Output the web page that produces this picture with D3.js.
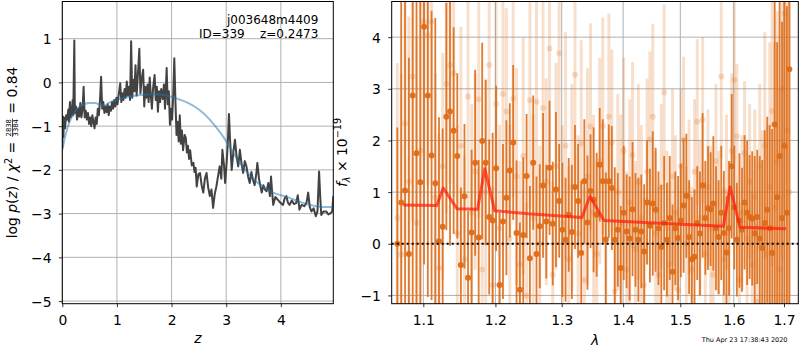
<!DOCTYPE html>
<html>
<head>
<meta charset="utf-8">
<script src="https://cdn.jsdelivr.net/npm/d3@7/dist/d3.min.js"></script>
<style>
  body { margin: 0; background: #fff; }
  svg text { font-family: "DejaVu Sans", sans-serif; fill: #000; white-space: pre; }
</style>
</head>
<body>
<svg id="fig" width="800" height="350"></svg>
<script>
// ---------------- p(z) panel ----------------
const zGrid = [0.00,0.01,0.02,0.03,0.05,0.07,0.09,0.11,0.12,0.14,0.15,0.17,0.19,0.20,0.22,0.23,0.25,0.27,0.29,0.31,
  0.33,0.35,0.37,0.39,0.41,0.43,0.45,0.47,0.49,0.51,0.53,0.55,0.57,0.59,0.61,0.63,0.65,0.67,0.69,0.71,
  0.73,0.75,0.77,0.79,0.81,0.83,0.85,0.87,0.89,0.91,0.93,0.95,0.97,0.99,1.01,1.03,1.06,1.08,1.10,1.12,
  1.14,1.16,1.18,1.20,1.22,1.24,1.26,1.28,1.30,1.32,1.34,1.36,1.38,1.41,1.43,1.45,1.48,1.50,1.52,1.54,
  1.56,1.58,1.60,1.62,1.64,1.66,1.69,1.71,1.73,1.75,1.77,1.79,1.81,1.84,1.86,1.88,1.91,1.93,1.95,1.97,
  1.99,2.01,2.03,2.05,2.07,2.09,2.11,2.13,2.15,2.17,2.19,2.21,2.24,2.26,2.28,2.30,2.32,2.34,2.37,2.40,
  2.42,2.44,2.46,2.49,2.52,2.55,2.58,2.61,2.64,2.67,2.70,2.73,2.76,2.79,2.82,2.85,2.88,2.91,2.93,2.96,
  2.98,3.01,3.03,3.05,3.07,3.10,3.13,3.16,3.19,3.22,3.25,3.28,3.31,3.34,3.37,3.40,3.43,3.46,3.49,3.52,
  3.55,3.57,3.60,3.63,3.65,3.68,3.71,3.74,3.77,3.80,3.82,3.84,3.86,3.90,3.95,3.99,4.04,4.07,4.10,4.13,
  4.16,4.20,4.24,4.28,4.31,4.34,4.38,4.43,4.47,4.50,4.53,4.56,4.60,4.64,4.67,4.70,4.72,4.74,4.78,4.83,
  4.87,4.90,4.94,4.96];
const logPz = [-1.50,-0.78,-1.25,-0.80,-1.05,-0.75,-0.85,-0.62,-0.90,-0.45,-0.80,-0.70,-0.40,-0.75,0.96,-0.70,-0.55,-0.85,-0.60,-0.78,
  -0.47,-0.80,-0.62,-0.10,-0.80,-0.65,-0.85,-0.70,-0.95,-0.80,-1.00,-0.75,-0.90,-1.05,-0.80,-0.95,-0.60,-0.75,-0.40,0.13,
  -0.60,-0.45,-0.70,-0.55,-0.68,-0.50,-0.75,-0.55,-0.65,-0.45,-0.60,-0.40,-0.55,-0.35,-0.50,-0.30,-0.02,-0.45,-0.25,-0.40,
  -0.15,-0.35,0.02,-0.30,-0.10,-0.40,0.94,-0.35,0.06,-0.20,0.39,-0.30,0.10,0.77,-0.25,0.05,0.29,-0.55,-0.10,-0.35,
  -0.05,-0.45,0.11,-0.30,-0.60,-0.15,0.17,-0.40,-0.10,-0.67,-0.20,-0.45,-0.15,-0.38,-0.05,-0.60,0.33,-0.50,-0.20,-0.97,
  -0.60,-0.85,-0.30,0.55,-0.40,-1.20,-0.90,-1.35,-0.75,-1.40,-1.10,-1.55,-1.20,-1.27,-1.60,-1.45,-1.75,-1.55,-1.90,-1.84,
  -2.05,-1.95,-2.38,-2.10,-2.07,-2.35,-2.52,-2.20,-2.07,-2.40,-2.60,-2.45,-2.87,-2.55,-2.38,-2.15,-1.92,-2.20,-1.54,-1.90,
  -2.30,-1.80,-1.35,-0.72,-1.30,-2.00,-1.60,-1.31,-1.70,-1.92,-1.54,-1.85,-2.07,-1.80,-1.92,-2.15,-2.30,-2.05,-2.23,-2.35,
  -2.10,-1.84,-2.20,-2.40,-2.52,-2.35,-2.45,-2.49,-2.30,-2.60,-2.15,-2.50,-2.80,-2.62,-2.69,-2.75,-2.80,-2.65,-2.60,-2.75,
  -2.80,-2.70,-2.78,-2.76,-2.58,-2.91,-2.80,-2.83,-2.75,-2.52,-2.85,-2.95,-2.88,-3.06,-2.95,-2.04,-2.60,-3.03,-2.95,-2.95,
  -3.02,-3.00,-2.95,-2.60];
const zSmooth = [0.00,0.05,0.10,0.15,0.20,0.25,0.30,0.40,0.50,0.60,0.70,0.78,0.85,0.95,1.10,1.30,1.50,1.70,1.90,2.10,
  2.30,2.50,2.70,2.85,2.95,3.05,3.15,3.25,3.35,3.45,3.56,3.70,3.86,4.00,4.16,4.30,4.47,4.65,4.80,4.96];
const logPzSmooth = [-1.55,-1.25,-1.02,-0.85,-0.74,-0.64,-0.57,-0.50,-0.47,-0.47,-0.52,-0.53,-0.47,-0.42,-0.36,-0.31,-0.28,-0.27,-0.30,-0.37,
  -0.47,-0.62,-0.85,-1.08,-1.25,-1.45,-1.65,-1.84,-2.00,-2.15,-2.28,-2.40,-2.52,-2.58,-2.64,-2.71,-2.78,-2.83,-2.85,-2.85];
const zTicks = [0, 1, 2, 3, 4];
const pTicks = [-5, -4, -3, -2, -1, 0, 1];

// ---------------- spectrum panel ----------------
const lam = [1.066,1.071,1.076,1.081,1.086,1.091,1.096,1.101,1.106,1.111,
  1.116,1.121,1.126,1.131,1.136,1.141,1.146,1.151,1.156,1.161,
  1.166,1.171,1.176,1.181,1.186,1.191,1.196,1.201,1.206,1.211,
  1.216,1.221,1.226,1.231,1.236,1.241,1.246,1.251,1.256,1.261,
  1.266,1.271,1.276,1.281,1.286,1.291,1.296,1.301,1.306,1.311,
  1.316,1.321,1.326,1.331,1.336,1.341,1.346,1.351,1.356,1.361,
  1.366,1.371,1.376,1.381,1.386,1.391,1.396,1.401,1.406,1.411,
  1.416,1.421,1.426,1.431,1.436,1.441,1.446,1.451,1.456,1.461,
  1.466,1.471,1.476,1.481,1.486,1.491,1.496,1.501,1.506,1.511,
  1.516,1.521,1.526,1.531,1.536,1.541,1.546,1.551,1.556,1.561,
  1.566,1.571,1.576,1.581,1.586,1.591,1.596,1.601,1.606,1.611,
  1.616,1.621,1.626,1.631,1.636,1.641,1.646,1.651,1.656,1.661,
  1.666,1.671,1.676,1.681,1.686,1.691,1.696,1.701,1.706,1.711];
const fluxDark = [0.0,0.8,1.03,-0.2,2.87,1.75,1.19,4.2,2.87,1.71,
  1.17,0.05,0.33,2.46,2.56,2.19,1.7,-0.41,0.92,-0.66,
  0.22,1.57,0.12,1.99,1.57,0.52,0.45,1.46,-0.8,0.43,
  0.89,1.42,1.96,0.21,-0.89,0.17,1.31,-0.28,1.57,-0.2,
  0.34,1.13,0.43,1.47,0.39,1.05,0.83,0.27,0.08,0.56,
  0.23,1.1,0.83,-0.18,1.21,0.41,1.02,0.85,0.56,1.53,
  1.21,0.08,1.21,1.08,0.08,0.27,-0.47,0.6,0.24,0.1,
  0.67,0.27,0.08,0.24,-0.15,0.8,0.35,0.78,0.66,0.3,
  -0.06,0.4,0.08,0.5,-0.54,0.3,0.11,0.45,0.74,0.93,
  0.13,-0.3,-0.25,0.4,0.2,1.13,0.5,0.69,0.67,0.78,
  0.3,0.13,0.6,0.21,-0.17,0.3,1.5,0.7,0.08,0.45,
  0.27,0.8,0.6,0.52,0.49,0.2,0.52,0.1,-0.08,0.4,
  0.66,0.3,-0.18,2.31,0.9,1.7,0.5,1.9,0.6,3.38];
const errDark = [2.25,3.9,4.5,3.8,5.0,4.2,3.5,4.6,3.9,2.8,
  3.2,2.4,1.9,2.2,2.6,2.0,1.6,1.5,1.4,1.3,
  1.6,1.8,1.5,1.9,1.6,1.5,1.7,1.6,1.4,1.5,
  1.5,1.3,1.5,1.4,1.3,1.5,1.2,1.4,1.3,1.5,
  1.2,1.4,1.1,1.3,1.2,1.5,1.1,1.3,1.2,1.1,
  1.3,1.2,1.1,1.4,1.2,1.3,1.1,1.4,1.2,1.1,
  1.2,1.3,1.1,1.2,1.4,1.1,1.2,1.3,1.1,1.2,
  1.3,1.1,1.2,1.1,1.3,1.2,1.1,1.4,1.2,1.1,
  1.2,1.3,1.1,1.2,1.3,1.1,1.2,1.1,1.3,1.2,
  1.1,1.2,1.3,1.1,1.2,1.4,1.1,1.2,1.1,1.3,
  1.2,1.1,1.3,1.2,1.1,1.3,1.4,1.2,1.1,1.3,
  1.2,1.3,1.4,1.2,1.3,1.5,1.3,1.6,1.7,1.8,
  1.8,2.0,2.4,3.5,3.0,4.2,3.8,4.6,4.0,5.0];
const fluxLight = [0.5,-0.21,2.33,1.2,3.24,0.4,1.8,4.3,4.03,4.3,
  0.9,-0.47,1.5,3.1,3.46,3.3,0.2,1.9,-0.3,2.85,
  0.6,1.4,2.8,-0.5,1.0,3.46,-0.8,2.71,0.3,2.9,
  2.56,0.1,2.81,1.3,-0.4,1.7,-1.0,2.78,0.5,2.75,
  0.0,2.63,1.2,3.78,-0.6,1.5,3.69,0.4,1.9,-0.3,
  1.1,3.27,0.2,1.94,-0.7,1.3,2.27,0.6,-0.2,1.6,
  2.28,0.1,2.46,1.96,-0.92,1.0,0.4,1.8,-0.5,0.8,
  1.72,-0.1,1.2,0.5,-0.8,1.4,2.02,2.46,0.2,-0.6,
  1.1,2.93,0.3,-0.4,1.3,0.6,-0.9,1.5,2.02,0.0,
  0.9,-0.5,1.4,2.36,0.5,2.4,-0.2,1.1,0.3,-0.6,
  1.6,0.4,3.24,-0.3,1.0,0.2,1.8,3.17,2.08,-0.7,
  0.6,1.75,0.1,1.2,-0.4,0.9,-1.12,1.5,0.3,1.9,
  -0.2,1.1,2.57,0.7,1.6,-0.5,3.0,4.46,2.2,1.0];
const errLight = [3.0,3.5,2.6,3.2,2.8,3.6,3.0,2.7,2.9,2.6,
  2.4,2.6,2.2,2.5,2.3,2.4,2.1,2.3,2.0,2.2,
  2.1,1.9,2.3,2.0,2.2,2.4,1.9,2.1,2.0,2.2,
  2.0,2.2,1.9,2.1,2.0,2.3,1.8,2.1,2.0,2.2,
  1.9,2.1,2.0,2.2,1.8,2.0,2.1,1.9,2.2,1.8,
  2.0,2.1,1.9,2.0,1.8,2.1,2.0,1.9,1.8,2.0,
  2.1,1.9,2.0,1.8,2.0,1.9,2.1,1.8,1.9,2.0,
  1.8,1.7,1.9,1.8,1.7,1.8,1.7,1.8,1.6,1.7,
  1.6,1.7,1.5,1.6,1.7,1.5,1.6,1.5,1.6,1.5,
  1.5,1.6,1.4,1.6,1.5,1.6,1.4,1.5,1.6,1.4,
  1.5,1.4,1.6,1.4,1.5,1.4,1.5,1.6,1.4,1.5,
  1.5,1.4,1.6,1.5,1.4,1.7,1.5,1.6,1.9,2.2,
  2.5,2.8,3.0,3.2,2.9,3.5,3.3,3.8,3.4,4.0];
const modelLam = [1.0737,1.1179,1.1267,1.1456,1.1744,1.1847,1.199,1.249,1.332,1.345,1.368,1.50,1.580,1.593,1.612,1.704];
const modelFlux = [0.75,0.74,1.08,0.68,0.67,1.45,0.64,0.58,0.51,0.92,0.45,0.38,0.34,1.10,0.32,0.29];
const lamTicks = [1.1, 1.2, 1.3, 1.4, 1.5, 1.6, 1.7];
const fTicks = [-1, 0, 1, 2, 3, 4];

const svg = d3.select("#fig");
const FS = 13.9;
const GRID = "#b0b0b0";
const ORANGE = "#dd6c17";

var left = {x0: 62.3, x1: 333.3, y0: 1.5, y1: 303.7};
var right = {x0: 391.7, x1: 798.3, y0: 1.5, y1: 303.7};

var x = d3.scaleLinear().domain([0, 4.96]).range([left.x0, left.x1]);
var y = d3.scaleLinear().domain([-5.06, 1.85]).range([left.y1, left.y0]);
var xLam = d3.scaleLog().domain([1.0588, 1.7296]).range([right.x0, right.x1]);
var yFlux = d3.scaleLinear().domain([-1.16, 4.69]).range([right.y1, right.y0]);

var defs = svg.append("defs");
[["clipL", left], ["clipR", right]].forEach(([id, b]) => {
    defs.append("clipPath").attr("id", id).append("rect")
        .attr("x", b.x0).attr("y", b.y0)
        .attr("width", b.x1 - b.x0).attr("height", b.y1 - b.y0);
});

//grid lines under everything
function drawGrid(b, xs, xt, ys, yt) {
    var g = svg.append("g").attr("stroke", GRID).attr("stroke-width", 1);
    g.selectAll("line.gx").data(xt).join("line").attr("class", "gx")
        .attr("x1", d => xs(d)).attr("x2", d => xs(d)).attr("y1", b.y0).attr("y2", b.y1);
    g.selectAll("line.gy").data(yt).join("line").attr("class", "gy")
        .attr("y1", d => ys(d)).attr("y2", d => ys(d)).attr("x1", b.x0).attr("x2", b.x1);
}

function drawAxes(b, xs, xt, xfmt, ys, yt, yfmt) {
    var ax = d3.axisBottom(xs).tickValues(xt).tickSize(3.5).tickPadding(8.4).tickFormat(xfmt);
    svg.append("g").attr("transform", "translate(0," + b.y1 + ")").call(ax)
        .call(g => g.select(".domain").remove())
        .call(g => g.selectAll("line").attr("stroke", "#000").attr("stroke-width", 0.8))
        .call(g => g.selectAll("text").attr("font-size", FS).attr("font-family", "DejaVu Sans"));
    var ay = d3.axisLeft(ys).tickValues(yt).tickSize(3.5).tickPadding(7.3).tickFormat(yfmt);
    svg.append("g").attr("transform", "translate(" + b.x0 + ",0)").call(ay)
        .call(g => g.select(".domain").remove())
        .call(g => g.selectAll("line").attr("stroke", "#000").attr("stroke-width", 0.8))
        .call(g => g.selectAll("text").attr("font-size", FS).attr("font-family", "DejaVu Sans").attr("dy", "0.36em"));
    svg.append("rect").attr("x", b.x0).attr("y", b.y0)
        .attr("width", b.x1 - b.x0).attr("height", b.y1 - b.y0)
        .attr("fill", "none").attr("stroke", "#000").attr("stroke-width", 1);
}

// ---------- left panel ----------
drawGrid(left, x, zTicks, y, pTicks);

var curves = svg.append("g").attr("clip-path", "url(#clipL)");
curves.append("path")
    .attr("d", d3.line().x((d, i) => x(zGrid[i])).y(d => y(d))(logPz))
    .attr("fill", "none").attr("stroke", "#333").attr("stroke-opacity", 0.92)
    .attr("stroke-width", 2).attr("stroke-linejoin", "round");
curves.append("path")
    .attr("d", d3.line().curve(d3.curveMonotoneX).x((d, i) => x(zSmooth[i])).y(d => y(d))(logPzSmooth))
    .attr("fill", "none").attr("stroke", "#1f77b4").attr("stroke-opacity", 0.5)
    .attr("stroke-width", 2);

drawAxes(left, x, zTicks, d3.format("d"), y, pTicks, d3.format("d"));

svg.append("text").attr("x", 318.3).attr("y", 24).attr("text-anchor", "end")
    .attr("font-size", 12).text("j003648m4409");
svg.append("text").attr("x", 318.3).attr("y", 38).attr("text-anchor", "end")
    .attr("font-size", 12).text("ID=339    z=0.2473");

svg.append("text").attr("x", (left.x0 + left.x1) / 2).attr("y", 343)
    .attr("text-anchor", "middle").attr("font-size", FS).attr("font-style", "italic").text("z");

// y label with a small fraction, laid out piece by piece
function mathLabel(cx, cy, pieces) {
    var g = svg.append("g");
    var inner = g.append("g");
    var cur = 0;
    pieces.forEach(p => {
        if (p.frac) {
            var n = inner.append("text").attr("font-size", p.size).attr("y", -5.8).text(p.frac[0]);
            var d = inner.append("text").attr("font-size", p.size).attr("y", 1.0).text(p.frac[1]);
            var w = Math.max(n.node().getComputedTextLength(), d.node().getComputedTextLength()) + 2;
            n.attr("x", cur + w / 2).attr("text-anchor", "middle");
            d.attr("x", cur + w / 2).attr("text-anchor", "middle");
            inner.append("line").attr("x1", cur + 0.5).attr("x2", cur + w - 0.5)
                .attr("y1", -4.5).attr("y2", -4.5).attr("stroke", "#000").attr("stroke-width", 0.7);
            cur += w;
        } else {
            var t = inner.append("text").attr("x", cur).attr("y", p.dy || 0)
                .attr("font-size", p.size || FS).text(p.s);
            if (p.it) t.attr("font-style", "italic");
            cur += t.node().getComputedTextLength();
        }
    });
    inner.attr("transform", "translate(" + (-cur / 2) + ",0)");
    g.attr("transform", "translate(" + cx + "," + cy + ") rotate(-90)");
}

mathLabel(17, 152.5, [
    {s: "log "}, {s: "p", it: true}, {s: "("}, {s: "z", it: true}, {s: ") / "},
    {s: "χ", it: true}, {s: "2", size: 9.7, dy: -5.5}, {s: " = "},
    {frac: ["2838", "3384"], size: 6.8}, {s: " = 0.84"}
]);

// ---------- right panel ----------
drawGrid(right, xLam, lamTicks, yFlux, fTicks);

var spec = svg.append("g").attr("clip-path", "url(#clipR)");
var idx = d3.range(lam.length);

// fainter spectrum
spec.append("g").selectAll("line").data(idx).join("line")
    .attr("x1", i => xLam(lam[i])).attr("x2", i => xLam(lam[i]))
    .attr("y1", i => yFlux(fluxLight[i] - errLight[i])).attr("y2", i => yFlux(fluxLight[i] + errLight[i]))
    .attr("stroke", ORANGE).attr("stroke-opacity", 0.22).attr("stroke-width", 3);
spec.append("g").selectAll("circle").data(idx).join("circle")
    .attr("cx", i => xLam(lam[i])).attr("cy", i => yFlux(fluxLight[i])).attr("r", 3)
    .attr("fill", ORANGE).attr("fill-opacity", 0.22);

// main spectrum
spec.append("g").selectAll("line").data(idx).join("line")
    .attr("x1", i => xLam(lam[i])).attr("x2", i => xLam(lam[i]))
    .attr("y1", i => yFlux(fluxDark[i] - errDark[i])).attr("y2", i => yFlux(fluxDark[i] + errDark[i]))
    .attr("stroke", ORANGE).attr("stroke-opacity", 0.9).attr("stroke-width", 1.8);
spec.append("g").selectAll("circle").data(idx).join("circle")
    .attr("cx", i => xLam(lam[i])).attr("cy", i => yFlux(fluxDark[i])).attr("r", 3)
    .attr("fill", ORANGE).attr("fill-opacity", 0.95);

// model
spec.append("path")
    .attr("d", d3.line().x((d, i) => xLam(modelLam[i])).y(d => yFlux(d))(modelFlux))
    .attr("fill", "none").attr("stroke", "#ff1a0a").attr("stroke-opacity", 0.7)
    .attr("stroke-width", 3).attr("stroke-linejoin", "round");

// zero level
svg.append("line").attr("x1", right.x0).attr("x2", right.x1)
    .attr("y1", yFlux(0)).attr("y2", yFlux(0))
    .attr("stroke", "#000").attr("stroke-width", 2).attr("stroke-dasharray", "2,3");

drawAxes(right, xLam, lamTicks, d3.format(".1f"), yFlux, fTicks, d3.format("d"));

svg.append("text").attr("x", (right.x0 + right.x1) / 2).attr("y", 345)
    .attr("text-anchor", "middle").attr("font-size", FS).attr("font-style", "italic").text("λ");

mathLabel(347, 152.5, [
    {s: "f", it: true}, {s: "λ", it: true, size: 9.7, dy: 3}, {s: " × 10"}, {s: "−19", size: 9.7, dy: -5.8}
]);

svg.append("text").attr("x", 787.5).attr("y", 341.7).attr("text-anchor", "end")
    .attr("font-size", 6.5).text("Thu Apr 23 17:38:43 2020");
</script>
</body>
</html>
